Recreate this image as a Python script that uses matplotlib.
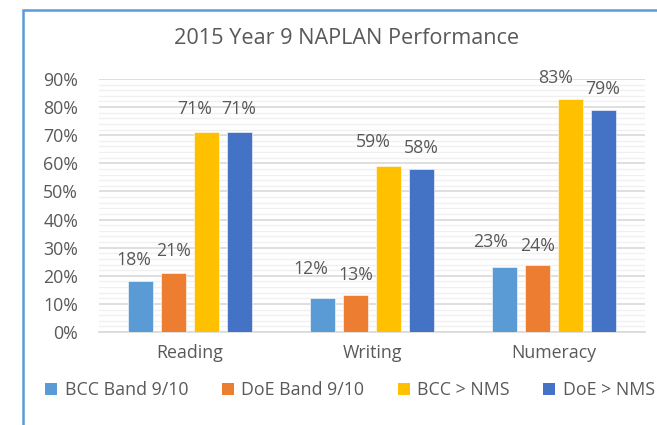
import matplotlib
matplotlib.use('Agg')

import numpy as np
import matplotlib.pyplot as plt
from matplotlib.patches import Patch, Rectangle
from matplotlib.ticker import MultipleLocator, PercentFormatter


# ------------ Data ---------------
categories = ['Reading', 'Writing', 'Numeracy']
series_names = ['BCC Band 9/10', 'DoE Band 9/10', 'BCC > NMS', 'DoE > NMS']
bcc_band = [0.18, 0.12, 0.23]
doe_band = [0.21, 0.13, 0.24]
bcc_nms = [0.71, 0.59, 0.83]
doe_nms = [0.71, 0.58, 0.79]
series_values = [bcc_band, doe_band, bcc_nms, doe_nms]

colors = ['#5B9BD5', '#ED7D31', '#FFC000', '#4472C4']
TEXT = '#595959'
FS = 12.8

# label nudges in pixels (dx, dy above bar top), [series][category]
label_dx = [[-7, -12, -14], [0, 0, 0], [-12, -15, -15], [0, 0, 0]]
label_dy = [[21, 29, 25], [22, 20, 19], [23, 24, 21], [23, 21, 21]]

plt.rcParams['font.family'] = ['Open Sans', 'DejaVu Sans']

fig = plt.figure(figsize=(6.57, 4.25), dpi=100)
ax = fig.add_axes([99 / 657, 1 - 332 / 425, 546 / 657, 253 / 425])

x = np.arange(len(categories))
step = 0.18
width = 0.138
for i, vals in enumerate(series_values):
    xs = x + (i - 1.5) * step
    ax.bar(xs, vals, width, color=colors[i], edgecolor='white', linewidth=0.4, zorder=3)
    for j, v in enumerate(vals):
        ax.annotate('%d%%' % round(v * 100), (xs[j], v),
                    xytext=(label_dx[i][j], label_dy[i][j]), textcoords='offset pixels',
                    ha='center', va='center', fontsize=FS, color=TEXT)

ax.set_xlim(-0.5, 2.5)
ax.set_ylim(0, 0.9)
ax.yaxis.set_major_locator(MultipleLocator(0.1))
ax.yaxis.set_minor_locator(MultipleLocator(0.02))
ax.yaxis.set_major_formatter(PercentFormatter(1.0, decimals=0))
ax.grid(axis='y', which='major', color='#D9D9D9', linewidth=1.2, zorder=0)
ax.grid(axis='y', which='minor', color='#F0F0F0', linewidth=1.0, zorder=0)
ax.set_xticks(x)
ax.set_xticklabels(categories)
ax.tick_params(axis='both', which='both', length=0, labelsize=FS, labelcolor=TEXT)
ax.tick_params(axis='y', pad=15)
ax.tick_params(axis='x', pad=9)
for s in ['top', 'right', 'left']:
    ax.spines[s].set_visible(False)
ax.spines['bottom'].set_color('#D9D9D9')
ax.spines['bottom'].set_linewidth(1.2)

fig.text(347 / 657, 1 - 39 / 425, '2015 Year 9 NAPLAN Performance',
         ha='center', va='center', fontsize=15.6, color=TEXT)

handles = [Patch(facecolor=c, edgecolor='none') for c in colors]
fig.legend(handles, series_names, loc='center', bbox_to_anchor=(350 / 657, 1 - 390 / 425),
           ncol=4, frameon=False, fontsize=FS, labelcolor=TEXT,
           handlelength=0.68, handleheight=0.65, handletextpad=0.4, columnspacing=1.9)

# chart border (blue frame, top and left edges visible)
fig.add_artist(Rectangle((22.5 / 657, -0.1), 1.2, 1.1 - 9.7 / 425,
                         transform=fig.transFigure, fill=False,
                         edgecolor='#5B9BD5', linewidth=1.8))

fig.savefig('out.png', dpi=100)
